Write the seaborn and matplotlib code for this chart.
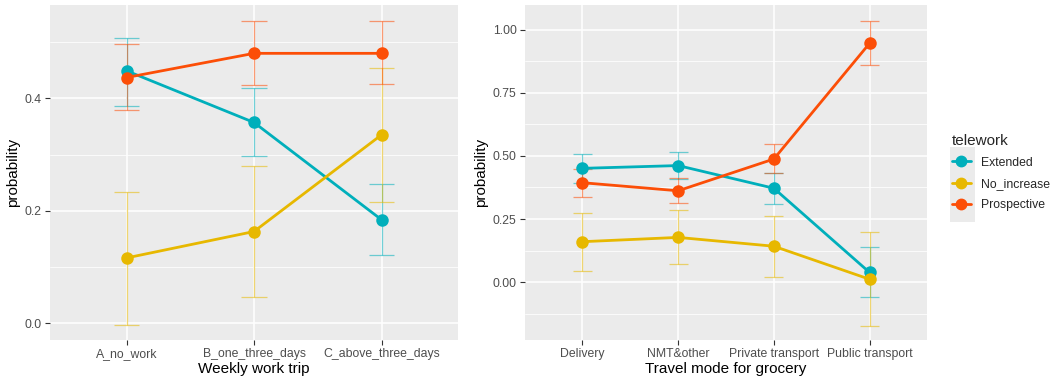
import numpy as np
import pandas as pd
import matplotlib
matplotlib.use("Agg")
import matplotlib.pyplot as plt
from matplotlib.lines import Line2D
from matplotlib.patches import Rectangle
import seaborn as sns

# ---------------- data ----------------
groups = ["Extended", "No_increase", "Prospective"]
colors = ["#00AFBB", "#E7B800", "#FC4E07"]

work_cats = ["A_no_work", "B_one_three_days", "C_above_three_days"]
work_ext = [0.449, 0.357, 0.184]
work_ext_lo = [0.386, 0.297, 0.121]
work_ext_hi = [0.508, 0.418, 0.247]
work_noinc = [0.116, 0.163, 0.335]
work_noinc_lo = [-0.004, 0.046, 0.216]
work_noinc_hi = [0.234, 0.280, 0.454]
work_pros = [0.437, 0.480, 0.480]
work_pros_lo = [0.379, 0.424, 0.425]
work_pros_hi = [0.496, 0.537, 0.537]

groc_cats = ["Delivery", "NMT&other", "Private transport", "Public transport"]
groc_ext = [0.451, 0.462, 0.372, 0.038]
groc_ext_lo = [0.392, 0.407, 0.308, -0.058]
groc_ext_hi = [0.508, 0.515, 0.431, 0.138]
groc_noinc = [0.160, 0.177, 0.142, 0.011]
groc_noinc_lo = [0.044, 0.071, 0.020, -0.173]
groc_noinc_hi = [0.272, 0.284, 0.263, 0.197]
groc_pros = [0.394, 0.362, 0.488, 0.947]
groc_pros_lo = [0.336, 0.312, 0.431, 0.861]
groc_pros_hi = [0.448, 0.414, 0.548, 1.034]


def make_df(cats, vals, los, his):
    rows = []
    for g, v, lo, hi in zip(groups, vals, los, his):
        for c, a, b, d in zip(cats, v, lo, hi):
            rows.append(dict(cat=c, telework=g, prob=a, lo=b, hi=d))
    return pd.DataFrame(rows)


df_work = make_df(work_cats,
                  [work_ext, work_noinc, work_pros],
                  [work_ext_lo, work_noinc_lo, work_pros_lo],
                  [work_ext_hi, work_noinc_hi, work_pros_hi])
df_groc = make_df(groc_cats,
                  [groc_ext, groc_noinc, groc_pros],
                  [groc_ext_lo, groc_noinc_lo, groc_pros_lo],
                  [groc_ext_hi, groc_noinc_hi, groc_pros_hi])

# ---------------- style ----------------
sns.set_theme(style="darkgrid", rc={
    "axes.facecolor": "#EBEBEB",
    "grid.color": "white",
})
plt.rcParams["font.family"] = ["Liberation Sans", "DejaVu Sans"]

fig = plt.figure(figsize=(10.57, 3.83), dpi=100)
W, H = 1057, 383


def ax_rect(x0, x1, y0, y1):
    return [x0 / W, 1 - y1 / H, (x1 - x0) / W, (y1 - y0) / H]


ax1 = fig.add_axes(ax_rect(50, 458, 5, 340))
ax2 = fig.add_axes(ax_rect(525, 927, 5, 340))


def draw(ax, df, cats, ylim, yticks, yticklabels, minor, xlabel):
    pal = dict(zip(groups, colors))
    # error bars (drawn beneath)
    for g in groups:
        sub = df[df.telework == g].set_index("cat").loc[cats]
        xs = np.arange(len(cats))
        ax.vlines(xs, sub["lo"], sub["hi"], color=pal[g], alpha=0.55, lw=0.9, zorder=2)
        ax.hlines(sub["lo"], xs - 0.1, xs + 0.1, color=pal[g], alpha=0.55, lw=0.9, zorder=2)
        ax.hlines(sub["hi"], xs - 0.1, xs + 0.1, color=pal[g], alpha=0.55, lw=0.9, zorder=2)
    sns.pointplot(data=df, x="cat", y="prob", hue="telework", order=cats,
                  hue_order=groups, palette=pal, errorbar=None, markers="o",
                  linestyles="-", markersize=7.5, linewidth=2.0, ax=ax, legend=False)
    for coll in ax.collections + ax.lines:
        coll.set_zorder(3)
    ax.set_xlim(-0.6, len(cats) - 1 + 0.6)
    ax.set_ylim(*ylim)
    ax.set_yticks(yticks)
    ax.set_yticklabels(yticklabels)
    ax.set_yticks(minor, minor=True)
    ax.grid(which="major", color="white", lw=1.1)
    ax.grid(which="minor", axis="y", color="white", lw=0.55)
    ax.grid(which="minor", axis="x", visible=False)
    ax.set_axisbelow(True)
    for s in ax.spines.values():
        s.set_visible(False)
    ax.tick_params(axis="both", which="major", length=3.5, width=0.8, color="#333333",
                   labelsize=8.8, labelcolor="#4D4D4D", pad=2.5, direction="out",
                   bottom=True, left=True)
    ax.tick_params(axis="both", which="minor", length=0)
    ax.set_xlabel(xlabel, fontsize=11, color="black", labelpad=1)
    ax.set_ylabel("probability", fontsize=11, color="black", labelpad=3)


draw(ax1, df_work, work_cats, (-0.030, 0.566), [0.0, 0.2, 0.4],
     ["0.0", "0.2", "0.4"], [0.1, 0.3, 0.5], "Weekly work trip")
draw(ax2, df_groc, groc_cats, (-0.230, 1.099), [0.0, 0.25, 0.5, 0.75, 1.0],
     ["0.00", "0.25", "0.50", "0.75", "1.00"], [-0.125, 0.125, 0.375, 0.625, 0.875],
     "Travel mode for grocery")

# ---------------- legend ----------------
fig.patches.append(Rectangle((950 / W, 1 - 222 / H), 25 / W, 75 / H,
                             transform=fig.transFigure, facecolor="#EBEBEB",
                             edgecolor="none", zorder=0))
handles = [Line2D([0], [0], color=c, lw=2.0, marker="o", markersize=7.5)
           for c in colors]
leg = fig.legend(handles, groups, title="telework", loc="upper left",
                 bbox_to_anchor=(943 / W, 1 - 125 / H), frameon=False,
                 fontsize=8.8, title_fontsize=11, handlelength=1.6,
                 handletextpad=0.8, labelspacing=0.75, borderpad=0.2)
leg._legend_box.align = "left"

fig.savefig("out.png", dpi=100)
